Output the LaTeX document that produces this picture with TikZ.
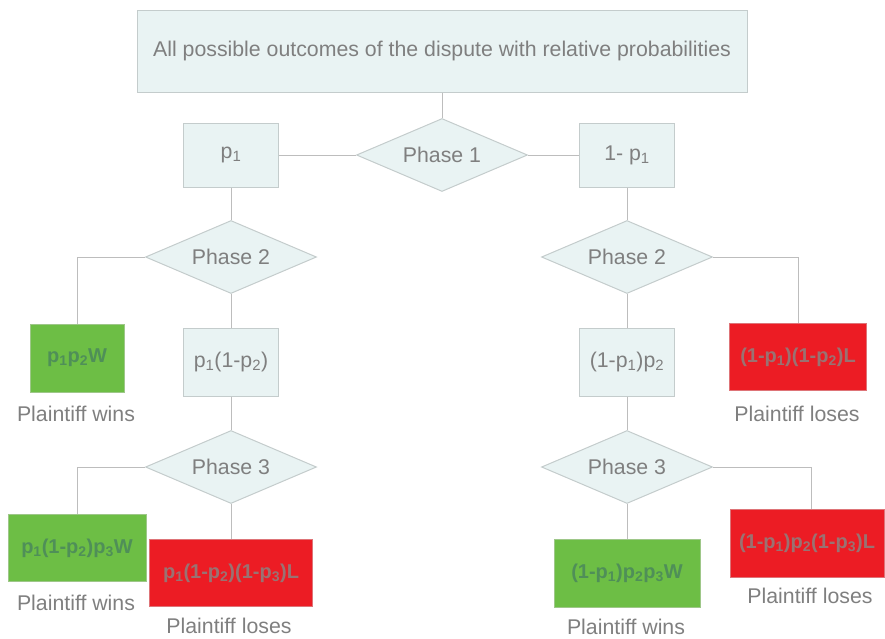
\documentclass[tikz,border=0pt]{standalone}
\usepackage{fontspec}
\setmainfont{Liberation Sans}
\usetikzlibrary{shapes.geometric}
\definecolor{boxfill}{HTML}{E9F3F3}
\definecolor{boxline}{HTML}{C4CCCC}
\definecolor{txt}{HTML}{7F7F7F}
\definecolor{conn}{HTML}{BDBDBD}
\definecolor{gfill}{HTML}{6DBE45}
\definecolor{gtxt}{HTML}{4F8F58}
\definecolor{rfill}{HTML}{EC1C24}
\definecolor{rtxt}{HTML}{9A7272}
\newcommand{\sbs}[1]{\textsubscript{#1}}
\tikzset{
  x=1pt, y=-1pt,
  every node/.style={font=\fontsize{21.3}{25}\selectfont, text=txt},
  plainbox/.style={draw=boxline, fill=boxfill, line width=1pt, inner sep=0pt},
  phase/.style={diamond, aspect=2.34, draw=boxline, fill=boxfill, line width=1pt, inner sep=0pt, minimum width=171pt, minimum height=73pt},
  winbox/.style={draw=gfill!85!black!60, fill=gfill, line width=1pt, inner sep=0pt, text=gtxt, font=\fontsize{20}{24}\selectfont\bfseries},
  losebox/.style={draw=rfill!85!black!60, fill=rfill, line width=1pt, inner sep=0pt, text=rtxt, font=\fontsize{20}{24}\selectfont\bfseries},
  lbl/.style={inner sep=0pt},
  conline/.style={draw=conn, line width=1pt},
}
\begin{document}
\begin{tikzpicture}
\useasboundingbox (0,0) rectangle (885,638);
% top
\node[plainbox, minimum width=610pt, minimum height=82pt] (top) at (442,51) {All possible outcomes of the dispute with relative probabilities};
% phase 1
\node[phase] (ph1) at (442,155) {Phase 1};
\node[plainbox, minimum width=95pt, minimum height=64pt] (p1) at (231,155) {p\sbs{1}};
\node[plainbox, minimum width=95pt, minimum height=64pt] (q1) at (627,155) {1- p\sbs{1}};
% phase 2
\node[phase] (ph2L) at (231,257) {Phase 2};
\node[phase] (ph2R) at (627,257) {Phase 2};
\node[winbox, minimum width=94pt, minimum height=68pt] (g1) at (77,358) {p\sbs{1}p\sbs{2}W};
\node[plainbox, minimum width=95pt, minimum height=68pt] (b2L) at (231,362) {p\sbs{1}(1-p\sbs{2})};
\node[plainbox, minimum width=95pt, minimum height=68pt] (b2R) at (627,362) {(1-p\sbs{1})p\sbs{2}};
\node[losebox, minimum width=137pt, minimum height=67pt] (r1) at (798,357) {(1-p\sbs{1})(1-p\sbs{2})L};
% phase 3
\node[phase] (ph3L) at (231,467) {Phase 3};
\node[phase] (ph3R) at (627,467) {Phase 3};
\node[winbox, minimum width=138pt, minimum height=67pt] (g2) at (77,548) {p\sbs{1}(1-p\sbs{2})p\sbs{3}W};
\node[losebox, minimum width=163pt, minimum height=67pt] (r2) at (231,573) {p\sbs{1}(1-p\sbs{2})(1-p\sbs{3})L};
\node[winbox, minimum width=146pt, minimum height=68pt] (g3) at (627,573) {(1-p\sbs{1})p\sbs{2}p\sbs{3}W};
\node[losebox, minimum width=154pt, minimum height=68pt] (r3) at (807,543) {(1-p\sbs{1})p\sbs{2}(1-p\sbs{3})L};
\coordinate (r3top) at (811,509);
% labels
\node[lbl] (l1) at (76,414) {Plaintiff wins};
\node[lbl] (l2) at (797,414) {Plaintiff loses};
\node[lbl] (l3) at (76,603) {Plaintiff wins};
\node[lbl] (l4) at (229,626) {Plaintiff loses};
\node[lbl] (l5) at (626,626.5) {Plaintiff wins};
\node[lbl] (l6) at (810,596) {Plaintiff loses};
% connectors
\draw[conline] (top.south) -- (ph1.north);
\draw[conline] (p1.east) -- (ph1.west);
\draw[conline] (ph1.east) -- (q1.west);
\draw[conline] (p1.south) -- (ph2L.north);
\draw[conline] (q1.south) -- (ph2R.north);
\draw[conline] (ph2L.west) -| (g1.north);
\draw[conline] (ph2L.south) -- (b2L.north);
\draw[conline] (ph2R.east) -| (r1.north);
\draw[conline] (ph2R.south) -- (b2R.north);
\draw[conline] (b2L.south) -- (ph3L.north);
\draw[conline] (b2R.south) -- (ph3R.north);
\draw[conline] (ph3L.west) -| (g2.north);
\draw[conline] (ph3L.south) -- (r2.north);
\draw[conline] (ph3R.east) -| (r3top);
\draw[conline] (ph3R.south) -- (g3.north);
\end{tikzpicture}
\end{document}
